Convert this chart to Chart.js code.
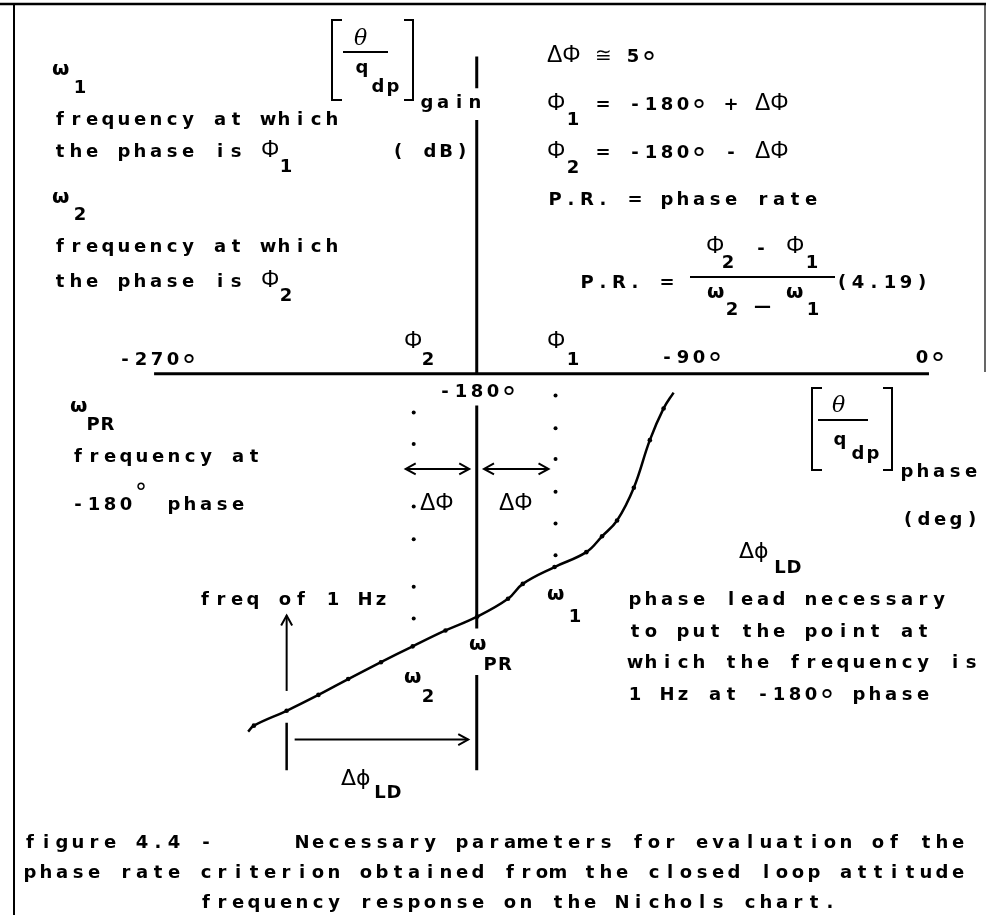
<!DOCTYPE html>
<html>
<head>
<meta charset="utf-8">
<script src="https://cdn.jsdelivr.net/npm/chart.js@4"></script>
<style>
  html, body { margin: 0; padding: 0; background: #fff; }
  canvas { display: block; }
</style>
</head>
<body>
<canvas id="nichols" width="986" height="915"></canvas>
<script>
// Closed loop attitude response on the Nichols chart (phase in deg, gain in dB)
var phaseDeg = [-271.4, -269.1, -256.0, -243.3, -231.4, -218.3, -205.6, -192.5, -179.8,
                -167.5, -161.6, -148.9, -136.2, -129.9, -123.9, -117.2, -110.8, -105.3, -101.3];
var gainDb   = [-18.05, -17.75, -17.0, -16.2, -15.4, -14.55, -13.75, -12.95, -12.25,
                -11.35, -10.6, -9.75, -9.0, -8.2, -7.4, -5.75, -3.35, -1.75, -0.95];

// phase lines either side of -180 (drawn dotted)
var phi2Deg = -205.2;
var phi1Deg = -148.5;
var phi2DotsDb = [-1.95, -3.55, -6.7, -8.35, -10.75, -12.35];
var phi1DotsDb = [-1.1, -2.75, -4.3, -5.95, -7.55, -9.15];

// gain axis at -180 deg, broken where the labels sit
var gainAxisDb = [16.0, 14.4, null, 12.8, 0, null, -1.6, -12.85, null, -15.2, -20.0];
var phaseAxisDeg = [-309, 0.8];

// freq of 1 Hz point and the lead needed to bring it to -180
var oneHzDeg = -256.0;
var oneHzArrowDb = [-16.0, -12.2];
var oneHzTickDb = [-17.6, -20.0];
var leadArrowDeg = [-252.8, -183.4];
var leadArrowDb = -18.45;
var dPhiLeftDeg = [-208.4, -183.0];
var dPhiRightDeg = [-177.1, -151.3];
var dPhiArrowDb = -4.8;

var tickLabels = ['-270°', '-180°', '-90°', '0°'];

function pts(xs, ys) {
  return xs.map(function (x, i) { return { x: x, y: ys[i] }; });
}
function vline(x, ys) {
  return ys.map(function (y) { return { x: x, y: y }; });
}

var PITCH = 16;
var TYPE = 'bold 18px "DejaVu Sans"';

function drawDeg(ctx, cx, cy, size) {
  ctx.save();
  ctx.font = size + 'px "DejaVu Sans"';
  ctx.textAlign = 'center';
  var m = ctx.measureText('°');
  var b = cy + (m.actualBoundingBoxAscent - m.actualBoundingBoxDescent) / 2;
  ctx.fillText('°', cx, b);
  ctx.restore();
}

// typewriter style text: each glyph centred in a fixed slot
function mono(ctx, s, x, y, pitch, sup) {
  pitch = pitch || PITCH;
  ctx.save();
  ctx.font = TYPE;
  ctx.textAlign = 'center';
  for (var i = 0; i < s.length; i++) {
    var ch = s[i];
    var cx = x + i * pitch + 6;
    if (ch === '°') {
      if (sup) drawDeg(ctx, cx - 1, y - 24, 24);
      else drawDeg(ctx, cx, y - 6.5, 30);
    } else if (ch !== ' ') {
      ctx.fillText(ch, cx, y);
    }
  }
  ctx.restore();
}

function sym(ctx, s, x, y, font) {
  ctx.save();
  ctx.font = font || '23px "Liberation Sans"';
  ctx.textAlign = 'left';
  ctx.fillText(s, x, y);
  ctx.restore();
}

function omega(ctx, x, y) { sym(ctx, 'ω', x, y, 'bold 20px "DejaVu Sans"'); }
function phi(ctx, x, y) { sym(ctx, 'Φ', x, y, '23px "Liberation Sans"'); }

function seg(ctx, x1, y1, x2, y2, w) {
  ctx.beginPath();
  ctx.lineWidth = w;
  ctx.moveTo(x1, y1);
  ctx.lineTo(x2, y2);
  ctx.stroke();
}

function bracket(ctx, xl, xr, top, bottom) {
  ctx.beginPath();
  ctx.lineWidth = 2;
  ctx.moveTo(xl + 10, top); ctx.lineTo(xl, top); ctx.lineTo(xl, bottom); ctx.lineTo(xl + 10, bottom);
  ctx.moveTo(xr - 9, top); ctx.lineTo(xr, top); ctx.lineTo(xr, bottom); ctx.lineTo(xr - 9, bottom);
  ctx.stroke();
}

function head(ctx, x, y, ang) {
  var L = 10, W = 5.5;
  ctx.beginPath();
  ctx.lineWidth = 2;
  ctx.moveTo(x - L * Math.cos(ang) + W * Math.sin(ang), y - L * Math.sin(ang) - W * Math.cos(ang));
  ctx.lineTo(x, y);
  ctx.lineTo(x - L * Math.cos(ang) - W * Math.sin(ang), y - L * Math.sin(ang) + W * Math.cos(ang));
  ctx.stroke();
}

var annotations = {
  id: 'annotations',
  afterDatasetsDraw: function (chart) {
    var ctx = chart.ctx;
    ctx.save();
    ctx.strokeStyle = '#000';
    ctx.fillStyle = '#000';
    ctx.lineCap = 'butt';

    // arrowheads at the ends of the arrow datasets
    chart.data.datasets.forEach(function (ds, di) {
      if (!ds.heads) return;
      var el = chart.getDatasetMeta(di).data;
      var a = el[0], b = el[el.length - 1];
      var ang = Math.atan2(b.y - a.y, b.x - a.x);
      if (ds.heads === 'end' || ds.heads === 'both') head(ctx, b.x, b.y, ang);
      if (ds.heads === 'both') head(ctx, a.x, a.y, ang + Math.PI);
    });

    // frame
    seg(ctx, 0, 4, 986, 4, 2.5);
    seg(ctx, 14, 4, 14, 915, 2);
    seg(ctx, 985, 4, 985, 372, 1.2);

    // gain axis title
    bracket(ctx, 332, 413, 20, 100);
    sym(ctx, 'θ', 354, 45, 'italic 22px "DejaVu Serif"');
    seg(ctx, 343, 52, 388, 52, 2);
    mono(ctx, 'q', 356, 73);
    mono(ctx, 'dp', 372, 92, 15);
    mono(ctx, 'gain', 421, 108);
    mono(ctx, '( dB)', 392, 157);

    // phase axis title
    bracket(ctx, 812, 892, 388, 470);
    sym(ctx, 'θ', 832, 412, 'italic 22px "DejaVu Serif"');
    seg(ctx, 818, 420, 868, 420, 2);
    mono(ctx, 'q', 834, 445);
    mono(ctx, 'dp', 852, 459, 15);
    mono(ctx, 'phase', 901, 477);
    mono(ctx, '(deg)', 902, 525);

    // phase tick labels
    mono(ctx, tickLabels[0], 119, 365);
    mono(ctx, tickLabels[1], 439, 397);
    mono(ctx, tickLabels[2], 661, 363);
    mono(ctx, tickLabels[3], 916, 363);
    phi(ctx, 404, 348); mono(ctx, '2', 422, 365);
    phi(ctx, 547, 348); mono(ctx, '1', 567, 365);

    // definitions, upper left
    omega(ctx, 52, 75); mono(ctx, '1', 74, 93);
    mono(ctx, 'frequency at which', 54, 125);
    mono(ctx, 'the phase is', 54, 157);
    phi(ctx, 261, 157); mono(ctx, '1', 280, 172);
    omega(ctx, 52, 203); mono(ctx, '2', 74, 220);
    mono(ctx, 'frequency at which', 54, 252);
    mono(ctx, 'the phase is', 54, 287);
    phi(ctx, 261, 287); mono(ctx, '2', 280, 301);

    // definitions, upper right
    sym(ctx, 'ΔΦ', 547, 62);
    sym(ctx, '≅', 595, 62, '20px "DejaVu Sans"');
    mono(ctx, '5°', 627, 62);
    phi(ctx, 547, 110); mono(ctx, '1', 567, 125);
    mono(ctx, '= -180° +', 597, 110);
    sym(ctx, 'ΔΦ', 755, 110);
    phi(ctx, 547, 158); mono(ctx, '2', 567, 173);
    mono(ctx, '= -180° -', 597, 158);
    sym(ctx, 'ΔΦ', 755, 158);
    mono(ctx, 'P.R. = phase rate', 549, 205);

    // equation (4.19)
    mono(ctx, 'P.R. =', 581, 288);
    phi(ctx, 706, 253); mono(ctx, '2', 722, 268);
    mono(ctx, '-', 755, 254);
    phi(ctx, 786, 253); mono(ctx, '1', 806, 268);
    seg(ctx, 690, 277, 835, 277, 2);
    omega(ctx, 707, 298); mono(ctx, '2', 726, 315);
    sym(ctx, '—', 754, 312, 'bold 17px "DejaVu Sans"');
    omega(ctx, 786, 298); mono(ctx, '1', 807, 315);
    mono(ctx, '(4.19)', 836, 288);

    // lower left notes
    omega(ctx, 70, 412); mono(ctx, 'PR', 87, 430, 14.5);
    mono(ctx, 'frequency at', 72, 462);
    mono(ctx, '-180° phase', 72, 510, PITCH, true);
    mono(ctx, 'freq of 1 Hz', 199, 605);

    // labels on the plot
    sym(ctx, 'ΔΦ', 420, 510);
    sym(ctx, 'ΔΦ', 499, 510);
    omega(ctx, 404, 683); mono(ctx, '2', 422, 702);
    omega(ctx, 469, 650); mono(ctx, 'PR', 484, 670, 15);
    omega(ctx, 547, 600); mono(ctx, '1', 569, 622);
    sym(ctx, 'Δϕ', 341, 785, '22px "DejaVu Sans"'); mono(ctx, 'LD', 374, 798, 14);
    sym(ctx, 'Δϕ', 739, 558, '22px "DejaVu Sans"'); mono(ctx, 'LD', 774, 573, 14);

    // lead note
    mono(ctx, 'phase lead necessary', 629, 605);
    mono(ctx, 'to put the point at', 629, 637);
    mono(ctx, 'which the frequency is', 629, 668);
    mono(ctx, '1 Hz at -180° phase', 629, 700);

    // caption
    mono(ctx, 'figure 4.4 -     Necessary parameters for evaluation of the', 24, 848);
    mono(ctx, 'phase rate criterion obtained from the closed loop attitude', 24, 878);
    mono(ctx, '           frequency response on the Nichols chart.', 24, 908);

    ctx.restore();
  }
};

var lineStyle = { showLine: true, borderColor: '#000', pointRadius: 0, fill: false };
function lineSet(data, width, extra) {
  return Object.assign({ data: data, borderWidth: width }, lineStyle, extra || {});
}
function dotSet(data) {
  return { data: data, showLine: false, pointRadius: 2, pointBackgroundColor: '#000', pointBorderWidth: 0 };
}

var ctx = document.getElementById('nichols').getContext('2d');
var chart = new Chart(ctx, {
  type: 'scatter',
  data: {
    datasets: [
      lineSet(pts(phaseDeg, gainDb), 2.5, {
        tension: 0.4,
        pointBackgroundColor: '#000',
        pointBorderWidth: 0,
        pointRadius: function (c) {
          return (c.dataIndex === 0 || c.dataIndex === phaseDeg.length - 1) ? 0 : 2.3;
        }
      }),
      lineSet(pts(phaseAxisDeg, [0, 0]), 3),
      lineSet(vline(-180, gainAxisDb), 3, { spanGaps: false }),
      dotSet(vline(phi2Deg, phi2DotsDb)),
      dotSet(vline(phi1Deg, phi1DotsDb)),
      lineSet(pts(dPhiLeftDeg, [dPhiArrowDb, dPhiArrowDb]), 2, { heads: 'both' }),
      lineSet(pts(dPhiRightDeg, [dPhiArrowDb, dPhiArrowDb]), 2, { heads: 'both' }),
      lineSet(vline(oneHzDeg, oneHzArrowDb), 2, { heads: 'end' }),
      lineSet(vline(oneHzDeg, oneHzTickDb), 2.5),
      lineSet(pts(leadArrowDeg, [leadArrowDb, leadArrowDb]), 2, { heads: 'end' })
    ]
  },
  options: {
    responsive: false,
    animation: false,
    layout: { padding: 0 },
    plugins: { legend: { display: false }, tooltip: { enabled: false } },
    scales: {
      x: { type: 'linear', min: -369, max: 22, display: false },
      y: { type: 'linear', min: -27.1, max: 18.65, display: false }
    }
  },
  plugins: [annotations]
});
</script>
</body>
</html>
